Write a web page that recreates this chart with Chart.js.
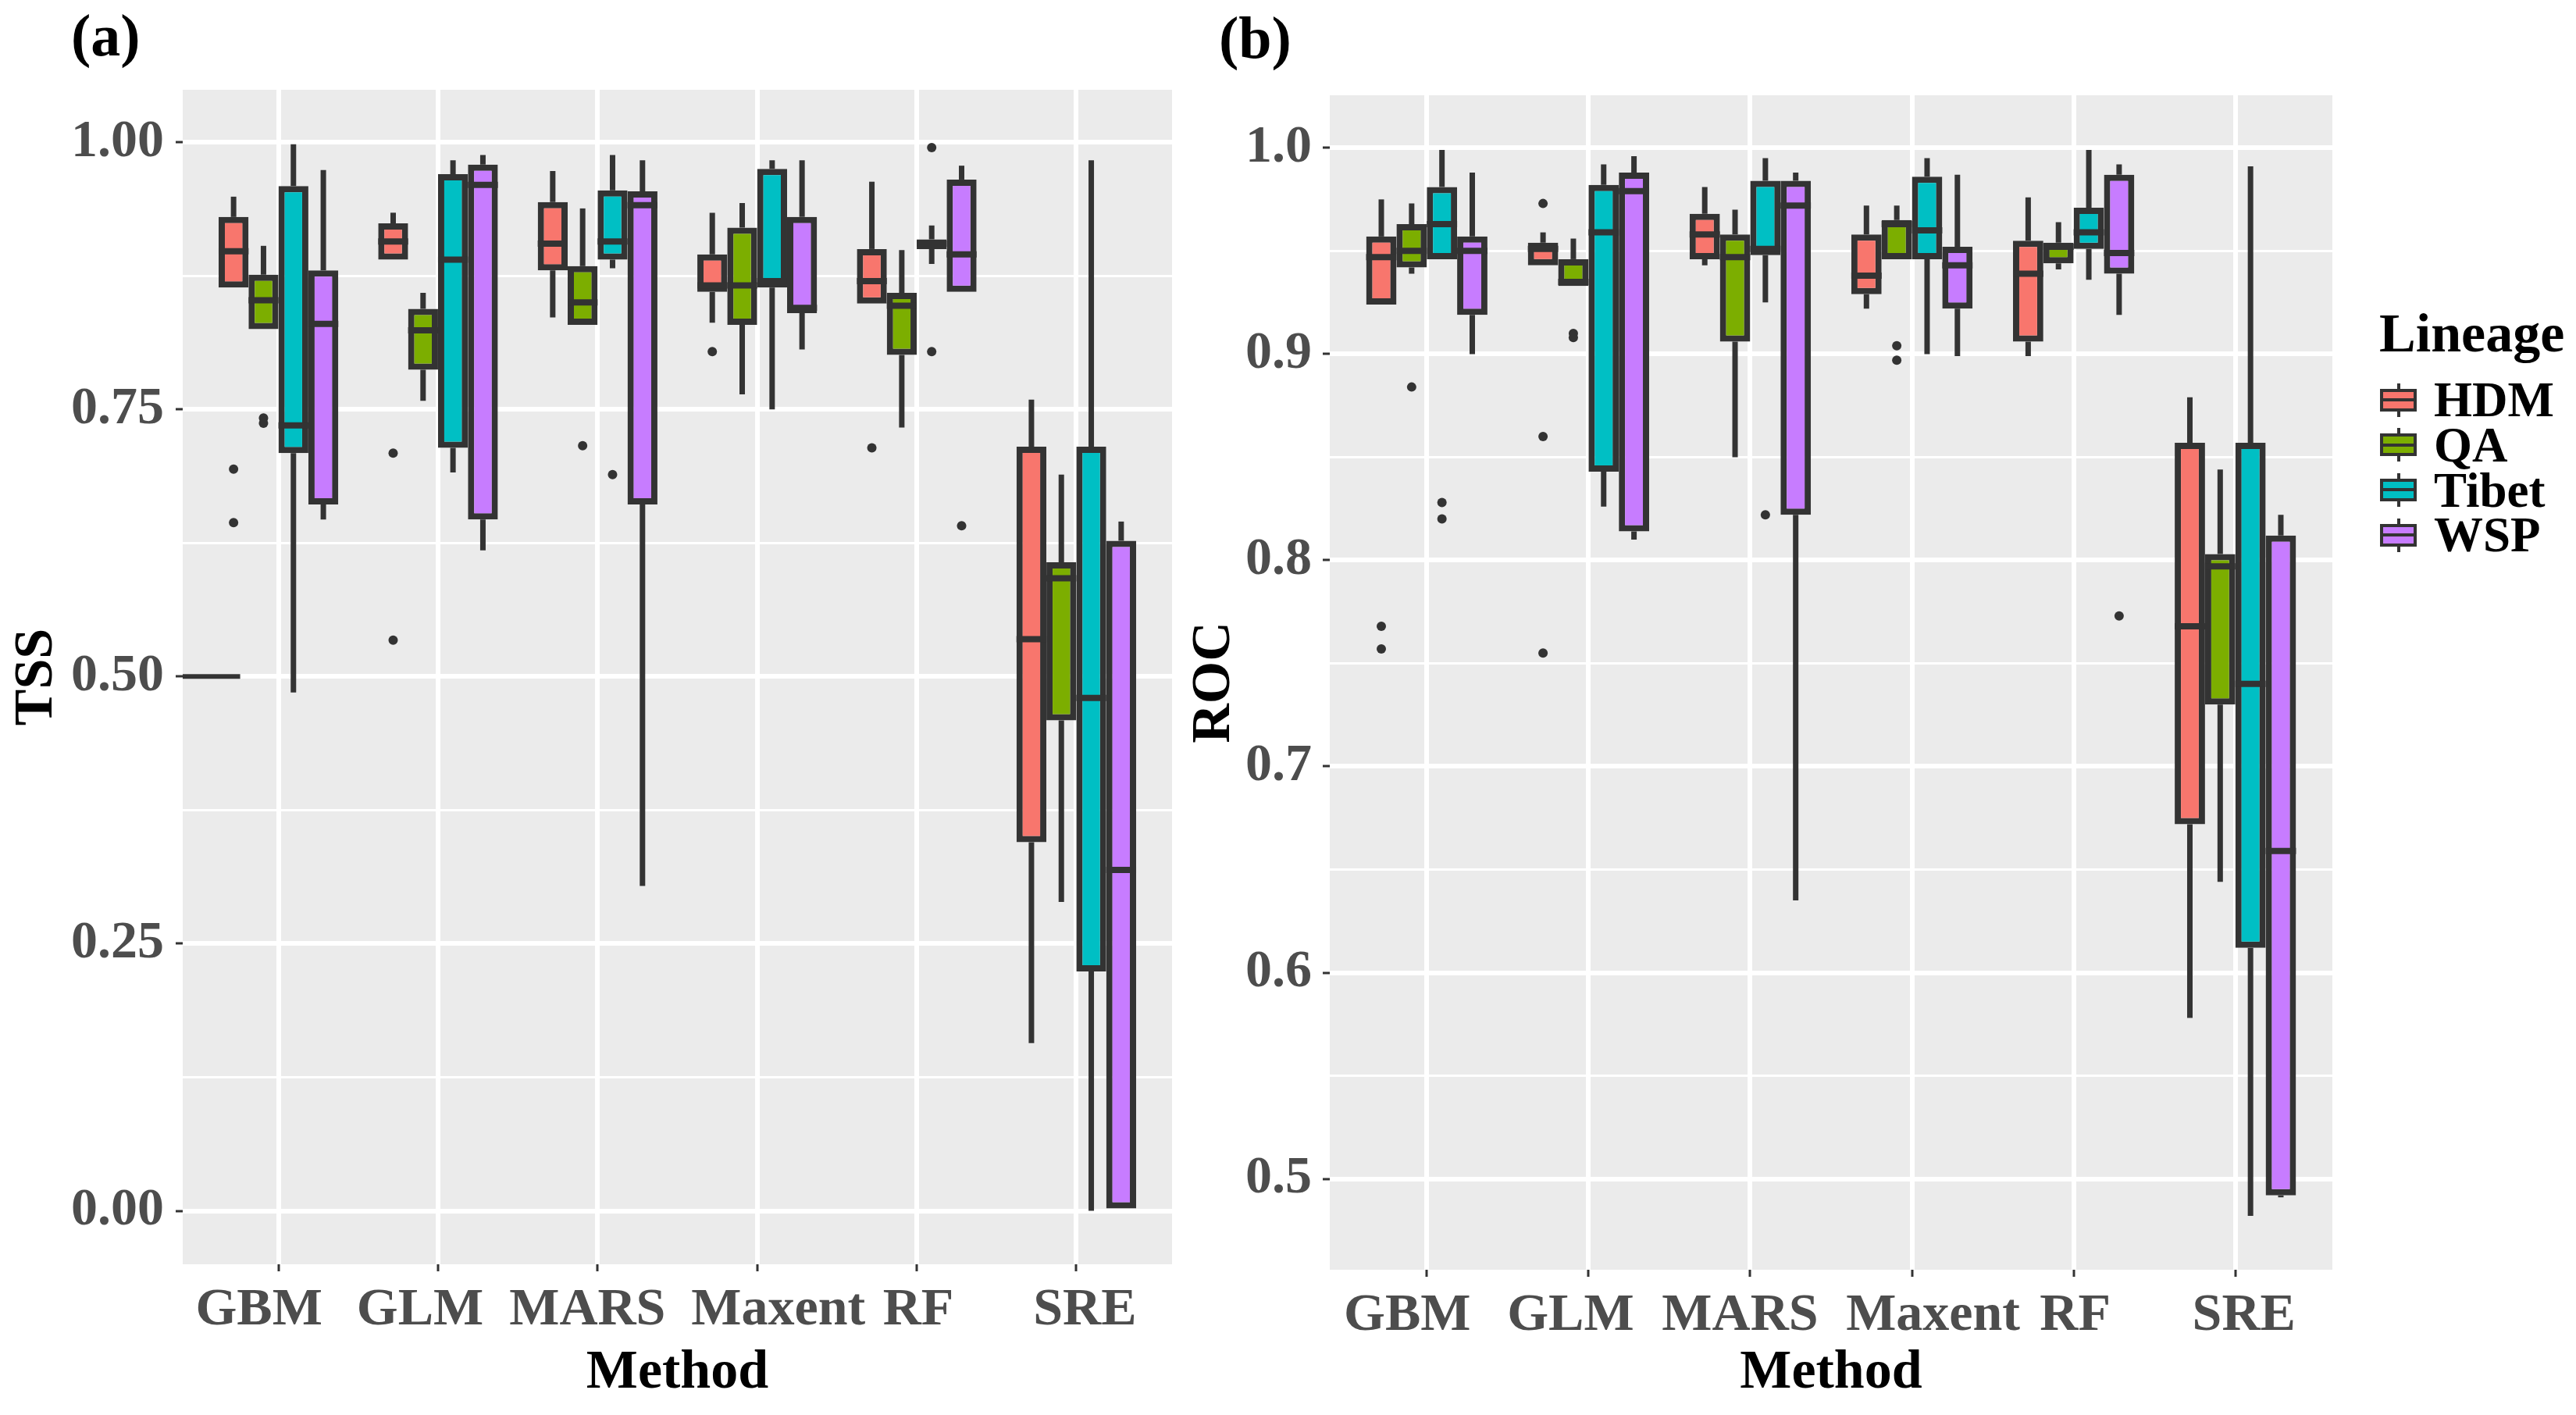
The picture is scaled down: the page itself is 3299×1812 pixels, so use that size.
<!doctype html>
<html lang="en">
<head>
<meta charset="UTF-8" />
<title>TSS and ROC by method and lineage</title>
<script src="https://cdn.jsdelivr.net/npm/chart.js"></script>
<style>
    html, body { margin: 0; padding: 0; background: #ffffff; }
    body {
        width: 3299px; height: 1812px; position: relative; overflow: hidden;
        font-family: "Liberation Serif", "Times New Roman", serif; font-weight: bold;
    }
    .panel { position: absolute; top: 0; height: 1812px; }
    #panelA { left: 0; width: 1530px; }
    #panelB { left: 1500px; width: 1500px; }
    .tag { position: absolute; font-size: 76px; line-height: 76px; color: #000; }
    .legend-title { position: absolute; left: 3047px; top: 392px; font-size: 70px; line-height: 70px; color: #000; }
    .legend-label { position: absolute; left: 3117px; font-size: 63px; line-height: 63px; color: #000; }
    .key { position: absolute; left: 3048px; width: 47px; height: 43px; }
    .key .whisker { position: absolute; left: 21.5px; top: 0; width: 4px; height: 43px; background: #333; }
    .key .box { position: absolute; left: 0; top: 7px; width: 47px; height: 29px; box-sizing: border-box; border: 4px solid #333; }
    .key .median { position: absolute; left: 0; top: 19.5px; width: 47px; height: 4px; background: #333; }
</style>
</head>
<body>
<div class="tag" style="left: 91px; top: 7px;">(a)</div>
<div class="tag" style="left: 1561px; top: 10px;">(b)</div>
<div class="panel" id="panelA"><canvas id="tssChart"></canvas></div>
<div class="panel" id="panelB"><canvas id="rocChart"></canvas></div>
<div id="legend"></div>

<script>
const methods = ["GBM", "GLM", "MARS", "Maxent", "RF", "SRE"];
const lineages = ["HDM", "QA", "Tibet", "WSP"];
const lineageColors = ["#F8766D", "#7CAE00", "#00BFC4", "#C77CFF"];

// each row: [lower whisker, Q1, median, Q3, upper whisker], one row per method
const tssHDM = [
    [0.864, 0.864, 0.898, 0.930, 0.949],
    [0.890, 0.890, 0.907, 0.924, 0.934],
    [0.836, 0.880, 0.905, 0.944, 0.973],
    [0.831, 0.860, 0.866, 0.895, 0.934],
    [0.849, 0.849, 0.870, 0.900, 0.963],
    [0.157, 0.345, 0.535, 0.715, 0.759]
];
const tssQA = [
    [0.825, 0.825, 0.852, 0.876, 0.903],
    [0.758, 0.787, 0.824, 0.844, 0.859],
    [0.829, 0.829, 0.850, 0.884, 0.938],
    [0.764, 0.829, 0.866, 0.920, 0.943],
    [0.733, 0.801, 0.847, 0.859, 0.899],
    [0.289, 0.459, 0.592, 0.607, 0.689]
];
const tssTibet = [
    [0.485, 0.709, 0.735, 0.959, 0.998],
    [0.691, 0.714, 0.890, 0.970, 0.983],
    [0.882, 0.890, 0.907, 0.955, 0.988],
    [0.750, 0.864, 0.870, 0.975, 0.983],
    [0.886, 0.900, 0.905, 0.909, 0.922],
    [0.000, 0.224, 0.480, 0.715, 0.983]
];
const tssWSP = [
    [0.647, 0.661, 0.830, 0.880, 0.974],
    [0.618, 0.647, 0.960, 0.979, 0.988],
    [0.304, 0.661, 0.941, 0.954, 0.983],
    [0.806, 0.840, 0.845, 0.930, 0.983],
    [0.860, 0.860, 0.895, 0.965, 0.978],
    [0.000, 0.000, 0.319, 0.627, 0.645]
];
const tssHDMOut = [[0.694, 0.644], [0.709, 0.534], [], [0.804], [0.714], []];
const tssQAOut = [[0.742, 0.737], [], [0.716], [], [], []];
const tssTibetOut = [[], [], [0.689], [], [0.995, 0.804], []];
const tssWSPOut = [[], [], [], [], [0.641], []];
// short stray segment at 0.50 next to the GBM group
const tssStray = [[-0.6, 0.5], [-0.24, 0.5]];

const rocHDM = [
    [0.924, 0.924, 0.947, 0.957, 0.975],
    [0.943, 0.943, 0.951, 0.954, 0.959],
    [0.943, 0.946, 0.958, 0.968, 0.981],
    [0.922, 0.929, 0.938, 0.958, 0.972],
    [0.899, 0.906, 0.939, 0.955, 0.976],
    [0.578, 0.672, 0.768, 0.857, 0.879]
];
const rocQA = [
    [0.939, 0.942, 0.950, 0.963, 0.973],
    [0.933, 0.933, 0.935, 0.946, 0.956],
    [0.850, 0.906, 0.947, 0.958, 0.970],
    [0.946, 0.946, 0.963, 0.965, 0.972],
    [0.941, 0.944, 0.952, 0.954, 0.964],
    [0.644, 0.730, 0.797, 0.803, 0.844]
];
const rocTibet = [
    [0.946, 0.946, 0.963, 0.981, 0.999],
    [0.826, 0.843, 0.959, 0.982, 0.992],
    [0.925, 0.948, 0.951, 0.984, 0.995],
    [0.900, 0.946, 0.960, 0.986, 0.995],
    [0.936, 0.951, 0.959, 0.971, 0.999],
    [0.482, 0.612, 0.740, 0.857, 0.991]
];
const rocWSP = [
    [0.900, 0.919, 0.950, 0.957, 0.988],
    [0.810, 0.814, 0.979, 0.988, 0.996],
    [0.635, 0.822, 0.972, 0.984, 0.988],
    [0.899, 0.922, 0.943, 0.952, 0.987],
    [0.919, 0.939, 0.949, 0.987, 0.992],
    [0.491, 0.492, 0.659, 0.812, 0.822]
];
const rocHDMOut = [[0.768, 0.757], [0.973, 0.860, 0.755], [], [], [], []];
const rocQAOut = [[0.884], [0.910, 0.908], [], [0.904, 0.897], [], []];
const rocTibetOut = [[0.828, 0.820], [], [0.822], [], [], []];
const rocWSPOut = [[], [], [], [], [0.773], []];

const tssTicks = [0, 0.25, 0.5, 0.75, 1.0];
const tssTickLabels = ["0.00", "0.25", "0.50", "0.75", "1.00"];
const tssMinor = [0.125, 0.375, 0.625, 0.875];
const rocTicks = [0.5, 0.6, 0.7, 0.8, 0.9, 1.0];
const rocTickLabels = ["0.5", "0.6", "0.7", "0.8", "0.9", "1.0"];
const rocMinor = [0.55, 0.65, 0.75, 0.85, 0.95];

// small horizontal shifts of the method labels, as in the original figure
const labelNudge = [-25, -23, -13, 27, 2, 11];

Chart.defaults.font.family = '"Liberation Serif", "Times New Roman", serif';
Chart.defaults.font.weight = "bold";

function drawBoxParts(chart, part) {
    const ctx = chart.ctx;
    const y = chart.scales.y;
    chart.data.datasets.forEach((ds, di) => {
        if (!ds.stats) return;
        const meta = chart.getDatasetMeta(di);
        meta.data.forEach((bar, i) => {
            const [lo, q1, med, q3, hi] = ds.stats[i];
            ctx.save();
            ctx.strokeStyle = "#333333";
            ctx.fillStyle = "#333333";
            if (part === "whisker") {
                ctx.lineWidth = 7;
                ctx.beginPath();
                ctx.moveTo(bar.x, y.getPixelForValue(hi));
                ctx.lineTo(bar.x, y.getPixelForValue(q3));
                ctx.moveTo(bar.x, y.getPixelForValue(q1));
                ctx.lineTo(bar.x, y.getPixelForValue(lo));
                ctx.stroke();
                ds.outliers[i].forEach(v => {
                    ctx.beginPath();
                    ctx.arc(bar.x, y.getPixelForValue(v), 6, 0, Math.PI * 2);
                    ctx.fill();
                });
            } else {
                const ym = y.getPixelForValue(med);
                ctx.lineWidth = 8;
                ctx.beginPath();
                ctx.moveTo(bar.x - bar.width / 2, ym);
                ctx.lineTo(bar.x + bar.width / 2, ym);
                ctx.stroke();
            }
            ctx.restore();
        });
    });
}

const boxPlugin = {
    id: "boxParts",
    beforeDatasetsDraw(chart) { drawBoxParts(chart, "whisker"); },
    afterDatasetsDraw(chart) { drawBoxParts(chart, "median"); }
};

const panelPlugin = {
    id: "panelLook",
    beforeDraw(chart) {
        const a = chart.chartArea;
        const ctx = chart.ctx;
        ctx.save();
        ctx.fillStyle = "#EBEBEB";
        ctx.fillRect(a.left, a.top, a.right - a.left, a.bottom - a.top);
        ctx.restore();
    },
    afterDraw(chart) {
        const x = chart.scales.x;
        const ctx = chart.ctx;
        ctx.save();
        ctx.font = 'bold 68px "Liberation Serif"';
        ctx.fillStyle = "#4D4D4D";
        ctx.textAlign = "center";
        ctx.textBaseline = "middle";
        methods.forEach((m, i) => {
            ctx.fillText(m, x.getPixelForValue(i) + labelNudge[i], chart.chartArea.bottom + 59);
        });
        ctx.restore();
    }
};

function makePanel(canvasId, p) {
    const datasets = lineages.map((name, j) => ({
        type: "bar",
        label: name,
        data: p.stats[j].map((s, i) => ({ x: i, y: [s[1], s[3]] })),
        backgroundColor: lineageColors[j],
        borderColor: "#333333",
        borderWidth: 8,
        borderSkipped: false,
        categoryPercentage: 0.75,
        barPercentage: 1.0,
        stats: p.stats[j],
        outliers: p.outliers[j]
    }));
    if (p.stray) {
        datasets.push({
            type: "line",
            label: "stray",
            data: p.stray.map(([x, y]) => ({ x, y })),
            borderColor: "#333333",
            borderWidth: 6,
            pointRadius: 0,
            fill: false
        });
    }
    const isMajor = v => p.majors.indexOf(v) >= 0;

    return new Chart(document.getElementById(canvasId), {
        type: "bar",
        data: { datasets },
        options: {
            responsive: true,
            maintainAspectRatio: false,
            animation: false,
            events: [],
            layout: { padding: p.padding },
            plugins: { legend: { display: false }, tooltip: { enabled: false } },
            scales: {
                x: {
                    type: "linear",
                    min: -0.6,
                    max: 5.6,
                    offset: false,
                    afterBuildTicks: s => { s.ticks = methods.map((m, i) => ({ value: i })); },
                    afterFit: s => { s.height = p.xAxisHeight; },
                    grid: {
                        offset: false,
                        color: "#FFFFFF",
                        lineWidth: 6,
                        drawTicks: true,
                        tickLength: 9,
                        tickColor: "#333333",
                        tickWidth: 3
                    },
                    border: { display: false },
                    ticks: { display: false },
                    title: {
                        display: true,
                        text: "Method",
                        color: "#000000",
                        font: { size: 70, weight: "bold" },
                        padding: { top: 0, bottom: 11 }
                    }
                },
                y: {
                    type: "linear",
                    min: p.yMin,
                    max: p.yMax,
                    beginAtZero: false,
                    afterBuildTicks: s => {
                        s.ticks = p.majors.concat(p.minors).sort((a, b) => a - b).map(v => ({ value: v }));
                    },
                    afterFit: s => { s.width = p.yAxisWidth; },
                    grid: {
                        color: "#FFFFFF",
                        lineWidth: c => (isMajor(c.tick.value) ? 6 : 3),
                        tickLength: 9,
                        tickColor: c => (isMajor(c.tick.value) ? "#333333" : "rgba(0,0,0,0)"),
                        tickWidth: 3
                    },
                    border: { display: false },
                    ticks: {
                        color: "#4D4D4D",
                        font: { size: 68, weight: "bold" },
                        padding: p.tickPad,
                        autoSkip: false,
                        callback: v => {
                            const k = p.majors.indexOf(v);
                            return k >= 0 ? p.labels[k] : "";
                        }
                    },
                    title: {
                        display: true,
                        text: p.title,
                        color: "#000000",
                        font: { size: 70, weight: "bold" },
                        padding: { top: p.titlePad, bottom: 0 }
                    }
                }
            }
        },
        plugins: [panelPlugin, boxPlugin]
    });
}

makePanel("tssChart", {
    stats: [tssHDM, tssQA, tssTibet, tssWSP],
    outliers: [tssHDMOut, tssQAOut, tssTibetOut, tssWSPOut],
    stray: tssStray,
    yMin: -0.05, yMax: 1.049,
    majors: tssTicks, labels: tssTickLabels, minors: tssMinor,
    title: "TSS",
    padding: { left: 0, top: 115, right: 29, bottom: 0 },
    yAxisWidth: 234, xAxisHeight: 193, tickPad: 15, titlePad: 6
});

makePanel("rocChart", {
    stats: [rocHDM, rocQA, rocTibet, rocWSP],
    outliers: [rocHDMOut, rocQAOut, rocTibetOut, rocWSPOut],
    yMin: 0.4559, yMax: 1.0255,
    majors: rocTicks, labels: rocTickLabels, minors: rocMinor,
    title: "ROC",
    padding: { left: 0, top: 122, right: 13, bottom: 0 },
    yAxisWidth: 203, xAxisHeight: 186, tickPad: 14, titlePad: 14
});

// legend with boxplot keys
const legend = document.getElementById("legend");
const legendTitle = document.createElement("div");
legendTitle.className = "legend-title";
legendTitle.textContent = "Lineage";
legend.appendChild(legendTitle);
lineages.forEach((name, j) => {
    const baseline = 534 + 57.7 * j;
    const key = document.createElement("div");
    key.className = "key";
    key.style.top = (baseline - 43.5) + "px";
    key.innerHTML = '<div class="whisker"></div><div class="box" style="background:' +
        lineageColors[j] + '"></div><div class="median"></div>';
    legend.appendChild(key);
    const label = document.createElement("div");
    label.className = "legend-label";
    label.style.top = (baseline - 52.8) + "px";
    label.textContent = name;
    legend.appendChild(label);
});
</script>
</body>
</html>
